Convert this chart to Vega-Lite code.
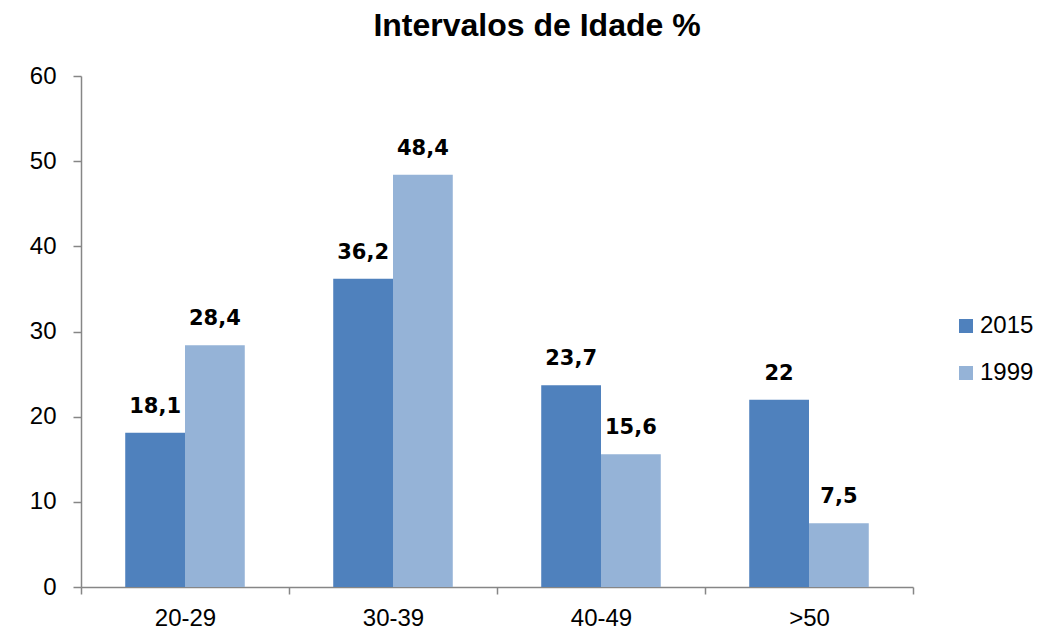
{
  "$schema": "https://vega.github.io/schema/vega-lite/v6.json",
  "width": 832,
  "height": 511,
  "autosize": {"type": "none"},
  "padding": {"left": 81, "top": 76, "right": 146, "bottom": 48},
  "background": "white",
  "config": {
    "font": "Liberation Sans",
    "view": {"stroke": null}
  },
  "title": {
    "text": "Intervalos de Idade %",
    "fontSize": 32,
    "fontWeight": "bold",
    "color": "black",
    "font": "Liberation Sans",
    "anchor": "middle",
    "baseline": "alphabetic",
    "dx": 40,
    "offset": -4
  },
  "data": {
    "values": [
      {"faixa": "20-29", "ano": "2015", "valor": 18.1, "rotulo": "18,1"},
      {"faixa": "20-29", "ano": "1999", "valor": 28.4, "rotulo": "28,4"},
      {"faixa": "30-39", "ano": "2015", "valor": 36.2, "rotulo": "36,2"},
      {"faixa": "30-39", "ano": "1999", "valor": 48.4, "rotulo": "48,4"},
      {"faixa": "40-49", "ano": "2015", "valor": 23.7, "rotulo": "23,7"},
      {"faixa": "40-49", "ano": "1999", "valor": 15.6, "rotulo": "15,6"},
      {"faixa": ">50", "ano": "2015", "valor": 22, "rotulo": "22"},
      {"faixa": ">50", "ano": "1999", "valor": 7.5, "rotulo": "7,5"}
    ]
  },
  "encoding": {
    "x": {
      "field": "faixa",
      "type": "nominal",
      "sort": ["20-29", "30-39", "40-49", ">50"],
      "scale": {"paddingInner": 0, "paddingOuter": 0},
      "axis": {
        "title": null,
        "labelAngle": 0,
        "labelFontSize": 24,
        "labelColor": "black",
        "labelPadding": 12,
        "tickBand": "extent",
        "tickSize": 7,
        "tickColor": "#868686",
        "domainColor": "#868686",
        "domainWidth": 1.5,
        "tickWidth": 1.5
      }
    },
    "xOffset": {
      "field": "ano",
      "type": "nominal",
      "sort": ["2015", "1999"],
      "scale": {"paddingInner": 0, "paddingOuter": 0.74}
    },
    "y": {
      "field": "valor",
      "type": "quantitative",
      "scale": {"domain": [0, 60], "nice": false},
      "axis": {
        "title": null,
        "values": [0, 10, 20, 30, 40, 50, 60],
        "grid": false,
        "labelFontSize": 24,
        "labelColor": "black",
        "labelPadding": 17,
        "tickSize": 8,
        "tickColor": "#868686",
        "domainColor": "#868686",
        "domainWidth": 1.5,
        "tickWidth": 1.5
      }
    }
  },
  "layer": [
    {
      "mark": {"type": "bar"},
      "encoding": {
        "color": {
          "field": "ano",
          "type": "nominal",
          "sort": ["2015", "1999"],
          "scale": {"domain": ["2015", "1999"], "range": ["#4F81BD", "#95B3D7"]},
          "legend": {
            "title": null,
            "orient": "none",
            "legendX": 873,
            "legendY": 238,
            "symbolType": "square",
            "symbolSize": 196,
            "symbolStrokeWidth": 0,
            "labelFontSize": 24,
            "labelColor": "black",
            "rowPadding": 23,
            "labelOffset": 2
          }
        }
      }
    },
    {
      "mark": {"type": "text", "baseline": "alphabetic", "dy": -20, "fontSize": 21, "fontWeight": "bold", "color": "black", "font": "DejaVu Sans"},
      "encoding": {
        "text": {"field": "rotulo"}
      }
    }
  ]
}
